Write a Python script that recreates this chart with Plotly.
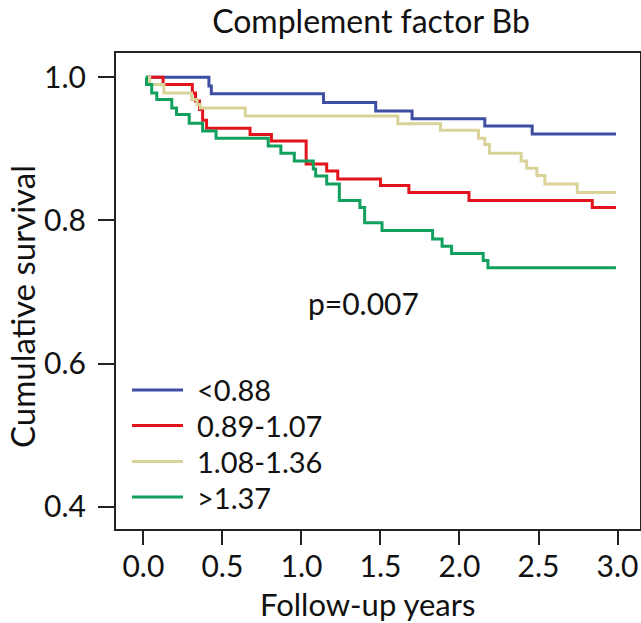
import plotly.graph_objects as go

# ---- data (Kaplan-Meier step curves) ----
group_labels = ["<0.88", "0.89-1.07", "1.08-1.36", ">1.37"]

blue_t = [0.02, 0.415, 0.43, 1.14, 1.47, 1.70, 2.16, 2.46, 2.99]
blue_s = [1.0, 0.988, 0.977, 0.965, 0.953, 0.942, 0.932, 0.921, 0.921]

red_t = [0.02, 0.125, 0.31, 0.33, 0.355, 0.375, 0.40, 0.675, 0.81, 1.03, 1.16, 1.23,
         1.50, 1.68, 2.06, 2.84, 2.99]
red_s = [1.0, 0.990, 0.978, 0.967, 0.955, 0.940, 0.929, 0.920, 0.911, 0.879, 0.869, 0.858,
         0.849, 0.839, 0.828, 0.818, 0.818]

tan_t = [0.02, 0.04, 0.13, 0.305, 0.34, 0.36, 0.645, 1.61, 1.88, 2.12, 2.16, 2.19,
         2.39, 2.425, 2.49, 2.54, 2.745, 2.99]
tan_s = [1.0, 0.990, 0.978, 0.969, 0.962, 0.957, 0.946, 0.935, 0.926, 0.915, 0.906, 0.894,
         0.883, 0.873, 0.863, 0.851, 0.839, 0.839]

green_t = [0.015, 0.02, 0.053, 0.085, 0.18, 0.21, 0.29, 0.375, 0.46, 0.79, 0.87, 0.955,
           1.075, 1.09, 1.16, 1.24, 1.37, 1.40, 1.51, 1.83, 1.89, 1.95, 2.15, 2.18, 2.99]
green_s = [1.0, 0.990, 0.978, 0.969, 0.957, 0.948, 0.936, 0.925, 0.915, 0.904, 0.894, 0.883,
           0.872, 0.862, 0.851, 0.828, 0.818, 0.797, 0.786, 0.774, 0.764, 0.754, 0.744, 0.734, 0.734]

x_ticks = [0.0, 0.5, 1.0, 1.5, 2.0, 2.5, 3.0]
y_ticks = [0.4, 0.6, 0.8, 1.0]
p_text = "p=0.007"
x_title = "Follow-up years"
y_title = "Cumulative survival"

colors = ["#3d4ea3", "#e3131b", "#d9d39a", "#11a05d"]
series = [(blue_t, blue_s), (red_t, red_s), (tan_t, tan_s), (green_t, green_s)]

FONT = "Lato, Open Sans, sans-serif"
W, H = 641, 623
L, R, T, B = 116, 1, 53, 94
PW, PH = W - L - R, H - T - B

def px(xp):
    return (xp - L) / PW

def py(yp):
    return (H - B - yp) / PH

fig = go.Figure()
for (t, s), name, c in zip(series, group_labels, colors):
    fig.add_trace(go.Scatter(x=t, y=s, mode="lines", name=name, showlegend=False,
                             hoverinfo="skip", line=dict(color=c, width=3, shape="hv")))

# legend (keys + labels), laid out like the reference's box-less legend
legend_rows = [390, 425.5, 461.5, 497]
for label, c, yr in zip(group_labels, colors, legend_rows):
    fig.add_shape(type="line", xref="paper", yref="paper",
                  x0=px(132), x1=px(183), y0=py(yr), y1=py(yr),
                  line=dict(color=c, width=3))
    fig.add_annotation(xref="paper", yref="paper", x=px(195), y=py(yr),
                       xanchor="left", yanchor="middle", text=label, showarrow=False,
                       font=dict(size=29, color="#111", family=FONT))

fig.add_annotation(x=1.39, y=0.685, xref="x", yref="y", text=p_text, showarrow=False,
                   font=dict(size=30, color="#111", family=FONT))

# axis titles, placed as in the reference
fig.add_annotation(xref="paper", yref="paper", x=px(22), y=py(307), textangle=-90,
                   xanchor="center", yanchor="middle", text=y_title, showarrow=False,
                   font=dict(size=33, color="#111", family=FONT))
fig.add_annotation(xref="paper", yref="paper", x=px(367), y=py(604),
                   xanchor="center", yanchor="middle", text=x_title, showarrow=False,
                   font=dict(size=31, color="#111", family=FONT))

fig.update_layout(
    width=W, height=H,
    margin=dict(l=L, r=R, t=T, b=B, autoexpand=False),
    paper_bgcolor="white", plot_bgcolor="white",
    font=dict(family=FONT, color="#111", size=30),
    title=dict(text="Complement factor Bb", x=371 / W, xanchor="center",
               y=1 - 22 / H, yanchor="middle", font=dict(size=32)),
    showlegend=False,
)
fig.update_xaxes(range=[-0.173, 3.142], tickvals=x_ticks, tickformat=".1f",
                 ticks="outside", ticklen=14, tickwidth=2, tickcolor="#222",
                 showline=True, linecolor="#222", linewidth=2, mirror=True,
                 showgrid=False, zeroline=False, automargin=False, ticklabelstandoff=-4)
fig.update_yaxes(range=[0.369, 1.034], tickvals=y_ticks, tickformat=".1f",
                 ticks="outside", ticklen=16, tickwidth=2, tickcolor="#222",
                 showline=True, linecolor="#222", linewidth=2, mirror=True,
                 showgrid=False, zeroline=False, ticklabelstandoff=6, automargin=False)

fig.write_html("out.html", config={"displayModeBar": False},
               post_script="document.body.style.margin='0';document.body.style.padding='0';")
